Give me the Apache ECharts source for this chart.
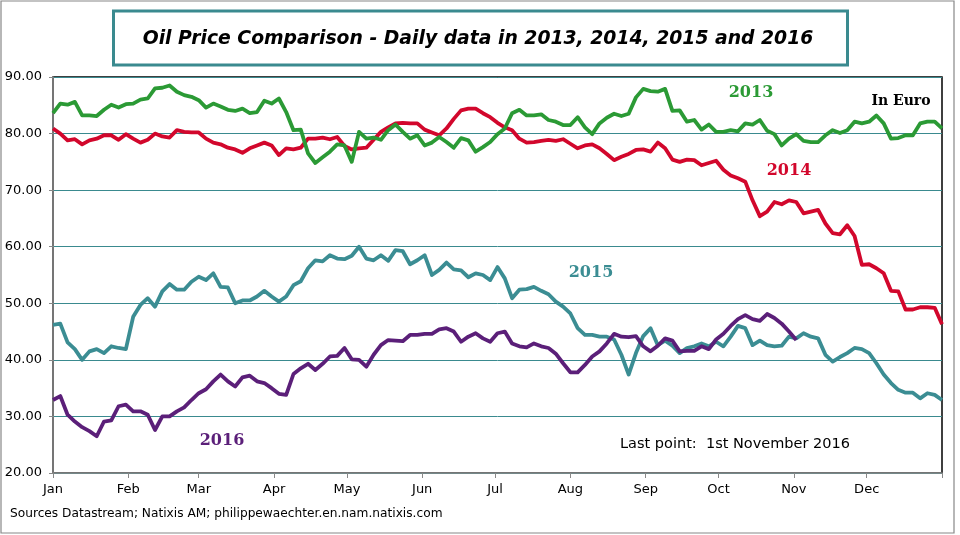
<!DOCTYPE html>
<html>
<head>
<meta charset="utf-8">
<script src="https://cdn.jsdelivr.net/npm/echarts@6/dist/echarts.min.js"></script>
<style>html,body{margin:0;padding:0;background:#fff}#c{width:960px;height:535px}</style>
</head>
<body>
<div id="c"></div>
<script>
// Sampling step in days (values read every 3 days from Jan 1)
const STEP = 3;
const monthNames = ['Jan','Feb','Mar','Apr','May','Jun','Jul','Aug','Sep','Oct','Nov','Dec'];
const monthStartDays = [0,31,60,91,121,152,182,213,244,274,305,335];
const yTicks = [20,30,40,50,60,70,80,90];

const oil2013 = [83.6,85.3,85.1,85.6,83.2,83.2,83.1,84.2,85.1,84.6,85.2,85.3,86.0,86.2,88.0,88.1,88.5,87.4,86.8,86.5,
85.9,84.6,85.3,84.8,84.2,84.0,84.4,83.6,83.8,85.8,85.3,86.2,83.8,80.6,80.7,76.5,74.8,75.8,76.8,78.1,
77.9,75.0,80.3,79.1,79.3,78.9,80.6,81.6,80.3,79.1,79.7,77.9,78.4,79.4,78.5,77.5,79.2,78.8,76.8,77.6,
78.5,79.9,80.9,83.6,84.2,83.2,83.2,83.4,82.4,82.1,81.5,81.5,82.9,81.1,79.9,81.8,82.8,83.5,83.1,83.5,
86.4,87.9,87.5,87.4,87.9,84.0,84.1,82.1,82.4,80.7,81.6,80.3,80.3,80.6,80.4,81.8,81.6,82.4,80.5,79.9,
77.9,79.1,79.9,78.7,78.5,78.5,79.7,80.6,80.1,80.6,82.1,81.8,82.1,83.2,81.8,79.1,79.2,79.7,79.7,81.8,
82.1,82.1,80.9];

const oil2014 = [80.9,80.0,78.8,79.0,78.1,78.8,79.1,79.7,79.7,78.9,79.9,79.1,78.4,78.9,80.0,79.5,79.3,80.6,80.3,80.2,
80.2,79.1,78.4,78.1,77.5,77.2,76.6,77.4,77.9,78.4,77.9,76.2,77.4,77.2,77.5,79.1,79.1,79.3,79.0,79.4,
77.8,77.2,77.4,77.5,78.9,80.3,81.1,81.8,81.9,81.8,81.8,80.7,80.2,79.7,80.9,82.6,84.1,84.4,84.4,83.6,
82.9,81.9,81.1,80.6,79.1,78.4,78.5,78.7,78.9,78.7,79.0,78.2,77.4,77.9,78.1,77.4,76.4,75.3,75.9,76.4,
77.1,77.2,76.8,78.4,77.4,75.4,75.0,75.4,75.3,74.4,74.8,75.2,73.6,72.6,72.1,71.5,68.2,65.4,66.2,67.9,
67.5,68.2,67.9,65.9,66.2,66.5,64.1,62.4,62.2,63.8,61.9,56.8,56.9,56.2,55.3,52.2,52.1,48.9,48.9,49.3,
49.3,49.2,46.3];

const oil2015 = [46.2,46.4,43.1,41.9,40.0,41.5,41.9,41.2,42.4,42.1,41.9,47.6,49.7,50.9,49.4,52.1,53.4,52.4,52.4,53.8,
54.7,54.1,55.3,52.9,52.8,50.0,50.5,50.5,51.2,52.2,51.2,50.3,51.2,53.2,53.9,56.2,57.6,57.4,58.5,57.9,
57.8,58.4,60.0,57.9,57.6,58.5,57.5,59.4,59.2,56.9,57.6,58.5,55.0,55.9,57.2,56.0,55.8,54.6,55.3,55.0,
54.1,56.4,54.4,50.9,52.4,52.5,52.9,52.2,51.6,50.3,49.4,48.2,45.6,44.4,44.4,44.1,44.1,43.6,40.9,37.4,
41.2,44.2,45.6,42.6,43.4,42.5,41.2,42.1,42.4,42.9,42.4,43.2,42.4,44.1,46.0,45.6,42.6,43.4,42.6,42.4,
42.5,44.1,43.8,44.7,44.1,43.8,40.9,39.7,40.5,41.2,42.1,41.9,41.2,39.4,37.4,35.9,34.7,34.2,34.2,33.2,
34.1,33.8,32.9];

const oil2016 = [32.9,33.6,30.3,29.1,28.1,27.4,26.5,29.1,29.3,31.8,32.1,30.9,30.9,30.3,27.6,30.0,30.0,30.9,31.6,32.9,
34.1,34.8,36.2,37.4,36.2,35.3,36.9,37.2,36.2,35.9,35.0,34.0,33.8,37.5,38.5,39.3,38.2,39.3,40.6,40.7,
42.1,40.1,40.0,38.8,40.9,42.6,43.5,43.4,43.3,44.4,44.4,44.6,44.6,45.4,45.6,45.0,43.2,44.1,44.7,43.8,
43.2,44.7,45.0,42.9,42.4,42.2,42.9,42.4,42.1,41.1,39.4,37.8,37.8,39.1,40.6,41.5,42.9,44.6,44.1,44.0,
44.2,42.4,41.5,42.5,43.8,43.4,41.5,41.6,41.6,42.4,41.9,43.6,44.6,46.0,47.2,47.9,47.2,46.9,48.1,47.4,
46.4,45.0,43.5];

const toPairs = arr => arr.map((v, i) => [i * STEP, v]);

const C13 = '#2b9a35', C14 = '#d2072c', C15 = '#3b8d93', C16 = '#5b1f79', GRID = '#3a8a8f';
const sans = 'Verdana, "DejaVu Sans", sans-serif';
const serif = '"DejaVu Serif", serif';

const chart = echarts.init(document.getElementById('c'), null, {renderer: 'canvas'});
const lineSeries = (name, data, color, z) => ({
  name, type: 'line', data: toPairs(data), showSymbol: false, symbol: 'none',
  lineStyle: {color, width: 3.8, join: 'round'}, itemStyle: {color}, z, animation: false
});

chart.setOption({
  animation: false,
  backgroundColor: '#fff',
  grid: {left: 53, right: 18, top: 77, bottom: 62, show: true, borderColor: '#000', borderWidth: 1.5, backgroundColor: 'transparent'},
  xAxis: {
    type: 'value', min: 0, max: 366,
    axisLine: {show: true, lineStyle: {color: '#888', width: 1.5}},
    axisTick: {show: true, length: 5, lineStyle: {color: '#888'}, customValues: monthStartDays.concat([366])},
    axisLabel: {customValues: monthStartDays, color: '#000', fontFamily: sans, fontSize: 13, margin: 10,
      formatter: v => monthNames[monthStartDays.indexOf(v)] || ''},
    splitLine: {show: false}
  },
  yAxis: {
    type: 'value', min: 20, max: 90, interval: 10,
    axisLine: {show: true, lineStyle: {color: '#888', width: 1.5}},
    axisTick: {show: true, length: 4, lineStyle: {color: '#888'}},
    axisLabel: {color: '#000', fontFamily: sans, fontSize: 13, margin: 11, formatter: v => v.toFixed(2)},
    splitLine: {show: true, lineStyle: {color: GRID, width: 1}}
  },
  series: [
    lineSeries('2015', oil2015, C15, 2),
    lineSeries('2016', oil2016, C16, 3),
    lineSeries('2014', oil2014, C14, 4),
    lineSeries('2013', oil2013, C13, 5)
  ],
  graphic: [
    {type: 'rect', silent: true, z: 0, shape: {x: 1, y: 1, width: 953, height: 532}, style: {fill: null, stroke: '#888', lineWidth: 1.2}},
    {type: 'rect', silent: true, z: 10, shape: {x: 113.5, y: 11, width: 734, height: 54}, style: {fill: '#fff', stroke: GRID, lineWidth: 3}},
    {type: 'text', z: 11, x: 478, y: 39, style: {text: 'Oil Price Comparison - Daily data in 2013, 2014, 2015 and 2016', fill: '#000',
      font: 'italic bold 18.8px ' + sans, align: 'center', verticalAlign: 'middle'}},
    {type: 'text', z: 11, x: 751, y: 93, style: {text: '2013', fill: C13, font: 'bold 16px ' + serif, align: 'center', verticalAlign: 'middle'}},
    {type: 'text', z: 11, x: 901, y: 101, style: {text: 'In Euro', fill: '#000', font: 'bold 14px ' + serif, align: 'center', verticalAlign: 'middle'}},
    {type: 'text', z: 11, x: 789, y: 171, style: {text: '2014', fill: C14, font: 'bold 16px ' + serif, align: 'center', verticalAlign: 'middle'}},
    {type: 'text', z: 11, x: 591, y: 273, style: {text: '2015', fill: C15, font: 'bold 16px ' + serif, align: 'center', verticalAlign: 'middle'}},
    {type: 'text', z: 11, x: 222, y: 441, style: {text: '2016', fill: C16, font: 'bold 16px ' + serif, align: 'center', verticalAlign: 'middle'}},
    {type: 'text', z: 11, x: 735, y: 444, style: {text: 'Last point:  1st November 2016', fill: '#000', font: '14.5px ' + sans, align: 'center', verticalAlign: 'middle'}},
    {type: 'text', z: 11, x: 10, y: 514, style: {text: 'Sources Datastream; Natixis AM; philippewaechter.en.nam.natixis.com', fill: '#000', font: '12.2px ' + sans, align: 'left', verticalAlign: 'middle'}}
  ]
});
</script>
</body>
</html>
